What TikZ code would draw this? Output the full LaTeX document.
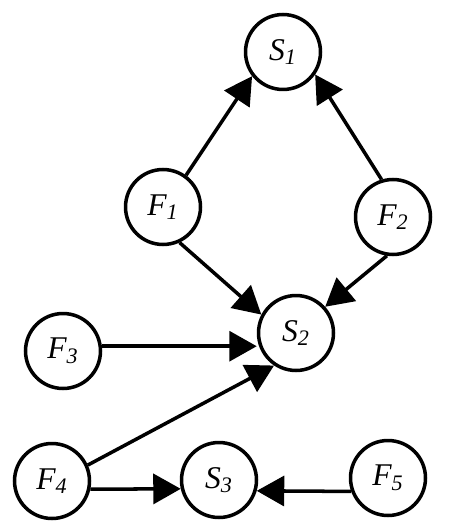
\documentclass[tikz,border=0pt]{standalone}
\usepackage{fontspec}
\setmainfont{Liberation Serif}
\usetikzlibrary{arrows.meta}

\begin{document}
\begin{tikzpicture}[x=0.02cm, y=-0.02cm, -{Triangle[length=0.55cm, width=0.6cm]}, line width=2pt,
        state node/.style={circle, draw, -, minimum size=1.5cm, inner sep=0pt, font=\itshape\fontsize{18}{18}\selectfont}]
    \useasboundingbox (0,0) rectangle (462,530);

    % Nodes
    \node[state node] (S1) at (283,52) {S\textsubscript{1}};
    \node[state node] (F1) at (163,207) {F\textsubscript{1}};
    \node[state node] (F2) at (393,217) {F\textsubscript{2}};
    \node[state node] (S2) at (296,333) {S\textsubscript{2}};
    \node[state node] (F3) at (63,351) {F\textsubscript{3}};
    \node[state node] (F4) at (52,481) {F\textsubscript{4}};
    \node[state node] (S3) at (219,480) {S\textsubscript{3}};
    \node[state node] (F5) at (388,478) {F\textsubscript{5}};

    % Edges
    \path (F1.54) edge[] (S1.218);
    \path (F2.107) edge[] (S1.325);
    \path (F1.295) edge[] (S2.152);
    \path (F2.261) edge[] (S2.42);
    \path (F3.7) edge[] (S2.west |- F3.7);
    \path (F4.24) edge[] (S2.236);
    \path (F4.-12) edge[] (S3.193);
    \path (F5.200) edge[] (S3.-16);
\end{tikzpicture}
\end{document}
